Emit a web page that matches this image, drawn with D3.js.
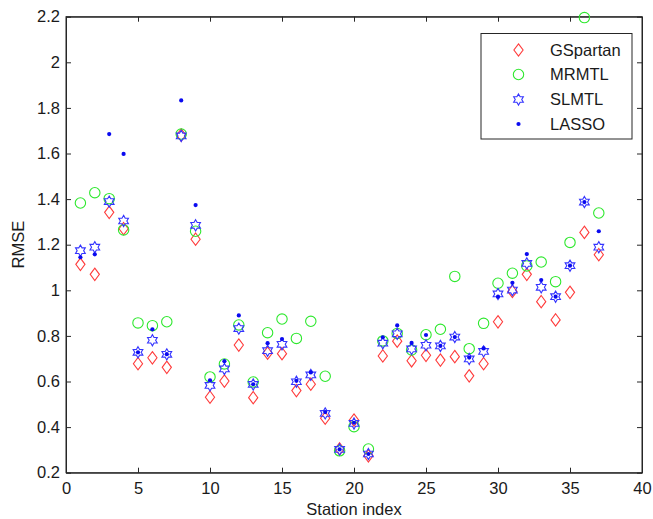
<!DOCTYPE html>
<html>
<head>
<meta charset="utf-8">
<script src="https://cdn.jsdelivr.net/npm/d3@7"></script>
<style>
  html, body { margin: 0; padding: 0; background: #fff; }
  svg { display: block; font-family: "Liberation Sans", Arial, Helvetica, sans-serif; }
</style>
</head>
<body>
<svg id="chart" width="653" height="519"></svg>
<script>
// RMSE per station for each method
const stations = d3.range(1, 38);
const gspartan = [1.114, 1.070, 1.342, 1.270, 0.678, 0.704, 0.662, 1.681, 1.224, 0.531,
                  0.602, 0.760, 0.529, 0.724, 0.722, 0.560, 0.588, 0.439, 0.304, 0.431,
                  0.274, 0.712, 0.777, 0.691, 0.715, 0.694, 0.709, 0.625, 0.678, 0.862,
                  0.995, 1.070, 0.950, 0.870, 0.991, 1.254, 1.156];
const mrmtl    = [1.383, 1.428, 1.402, 1.265, 0.857, 0.845, 0.862, 1.685, 1.259, 0.620,
                  0.677, 0.848, 0.598, 0.814, 0.874, 0.789, 0.864, 0.623, 0.296, 0.402,
                  0.304, 0.778, 0.811, 0.738, 0.805, 0.829, 1.061, 0.744, 0.855, 1.031,
                  1.075, 1.107, 1.124, 1.038, 1.210, 2.196, 1.339];
const slmtl    = [1.174, 1.189, 1.389, 1.304, 0.728, 0.781, 0.719, 1.677, 1.285, 0.583,
                  0.655, 0.832, 0.587, 0.735, 0.763, 0.599, 0.629, 0.460, 0.302, 0.416,
                  0.282, 0.768, 0.809, 0.743, 0.759, 0.756, 0.795, 0.699, 0.732, 0.984,
                  1.001, 1.118, 1.013, 0.972, 1.108, 1.387, 1.189];
const lasso    = [1.145, 1.158, 1.685, 1.598, 0.728, 0.829, 0.720, 1.833, 1.374, 0.605,
                  0.689, 0.890, 0.588, 0.768, 0.786, 0.603, 0.640, 0.466, 0.302, 0.419,
                  0.282, 0.794, 0.846, 0.769, 0.804, 0.756, 0.795, 0.705, 0.745, 0.972,
                  1.033, 1.159, 1.045, 0.972, 1.108, 1.387, 1.259];
const seriesNames = ["GSpartan", "MRMTL", "SLMTL", "LASSO"];
const xTicks = [0, 5, 10, 15, 20, 25, 30, 35, 40];
const yTicks = [0.2, 0.4, 0.6, 0.8, 1, 1.2, 1.4, 1.6, 1.8, 2, 2.2];

const svg = d3.select("#chart");
const plot = { left: 66, right: 642, top: 16.7, bottom: 472.7 };

const x = d3.scaleLinear().domain([0, 40]).range([plot.left, plot.right]);
const y = d3.scaleLinear().domain([0.2, 2.2]).range([plot.bottom, plot.top]);

const axisColor = "#262626";
const fontSize = 16.5;
const tickLen = 5;

// Marker shapes
function diamondPath(cx, cy) {
  const w = 4.6, h = 6.2;
  return `M${cx},${cy - h}L${cx + w},${cy}L${cx},${cy + h}L${cx - w},${cy}Z`;
}
function hexagramPath(cx, cy) {
  const R = 5.6, r = R / Math.sqrt(3);
  const pts = [];
  for (let i = 0; i < 12; i++) {
    const a = -Math.PI / 2 + i * Math.PI / 6;
    const rad = i % 2 === 0 ? R : r;
    pts.push([cx + rad * Math.cos(a), cy + rad * Math.sin(a)]);
  }
  return "M" + pts.map(p => p.join(",")).join("L") + "Z";
}

const styles = {
  GSpartan: { color: "#ff2a2a", draw: (g, cx, cy) => g.append("path").attr("d", diamondPath(cx, cy)).attr("fill", "none").attr("stroke", "#ff3b3b").attr("stroke-width", 1.1) },
  MRMTL:    { color: "#22ee22", draw: (g, cx, cy) => g.append("circle").attr("cx", cx).attr("cy", cy).attr("r", 5.2).attr("fill", "none").attr("stroke", "#2ee82e").attr("stroke-width", 1.1) },
  SLMTL:    { color: "#2a2aff", draw: (g, cx, cy) => g.append("path").attr("d", hexagramPath(cx, cy)).attr("fill", "none").attr("stroke", "#3434ff").attr("stroke-width", 1.1) },
  LASSO:    { color: "#0000ff", draw: (g, cx, cy) => g.append("circle").attr("cx", cx).attr("cy", cy).attr("r", 2.1).attr("fill", "#0a0af0") }
};

const seriesData = { GSpartan: gspartan, MRMTL: mrmtl, SLMTL: slmtl, LASSO: lasso };

// Axis box
svg.append("rect")
  .attr("x", plot.left).attr("y", plot.top)
  .attr("width", plot.right - plot.left).attr("height", plot.bottom - plot.top)
  .attr("fill", "#fff").attr("stroke", axisColor).attr("stroke-width", 1);

// Axes with inward ticks, mirrored on the top and right edges
const xAxis = d3.axisBottom(x).tickValues(xTicks).tickSizeInner(-tickLen).tickSizeOuter(0).tickPadding(10).tickFormat(d3.format("d"));
const yAxis = d3.axisLeft(y).tickValues(yTicks).tickSizeInner(-tickLen).tickSizeOuter(0).tickPadding(6).tickFormat(d => String(+d.toFixed(1)));
const xAxisTop = d3.axisTop(x).tickValues(xTicks).tickSizeInner(-tickLen).tickSizeOuter(0).tickFormat("");
const yAxisRight = d3.axisRight(y).tickValues(yTicks).tickSizeInner(-tickLen).tickSizeOuter(0).tickFormat("");

function styleAxis(g) {
  g.select(".domain").attr("stroke", axisColor);
  g.selectAll(".tick line").attr("stroke", axisColor);
  g.selectAll(".tick text").attr("fill", "#1a1a1a").style("font-size", fontSize + "px")
    .style("font-family", "'Liberation Sans', Arial, sans-serif");
}

svg.append("g").attr("transform", `translate(0,${plot.bottom})`).call(xAxis).call(styleAxis);
svg.append("g").attr("transform", `translate(${plot.left},0)`).call(yAxis).call(styleAxis);
svg.append("g").attr("transform", `translate(0,${plot.top})`).call(xAxisTop).call(styleAxis);
svg.append("g").attr("transform", `translate(${plot.right},0)`).call(yAxisRight).call(styleAxis);

// Axis labels
svg.append("text")
  .attr("x", (plot.left + plot.right) / 2).attr("y", 515)
  .attr("text-anchor", "middle").attr("fill", "#1a1a1a")
  .style("font-size", fontSize + "px").text("Station index");
svg.append("text")
  .attr("transform", `translate(24,${(plot.top + plot.bottom) / 2}) rotate(-90)`)
  .attr("text-anchor", "middle").attr("fill", "#1a1a1a")
  .style("font-size", fontSize + "px").text("RMSE");

// Data markers, one layer per method
const marks = svg.append("g");
seriesNames.forEach(name => {
  const g = marks.append("g").attr("class", "series-" + name);
  seriesData[name].forEach((v, i) => styles[name].draw(g, x(stations[i]), y(v)));
});

// Legend
const legend = svg.append("g");
legend.append("rect")
  .attr("x", 481).attr("y", 33.5).attr("width", 151).attr("height", 105.5)
  .attr("fill", "#fff").attr("stroke", axisColor).attr("stroke-width", 1);
const legendRows = [50, 74.5, 99.5, 124];
seriesNames.forEach((name, i) => {
  styles[name].draw(legend, 518.5, legendRows[i]);
  legend.append("text")
    .attr("x", 550).attr("y", legendRows[i]).attr("dy", "0.36em")
    .attr("fill", "#1a1a1a").style("font-size", fontSize + "px").text(name);
});
</script>
</body>
</html>
